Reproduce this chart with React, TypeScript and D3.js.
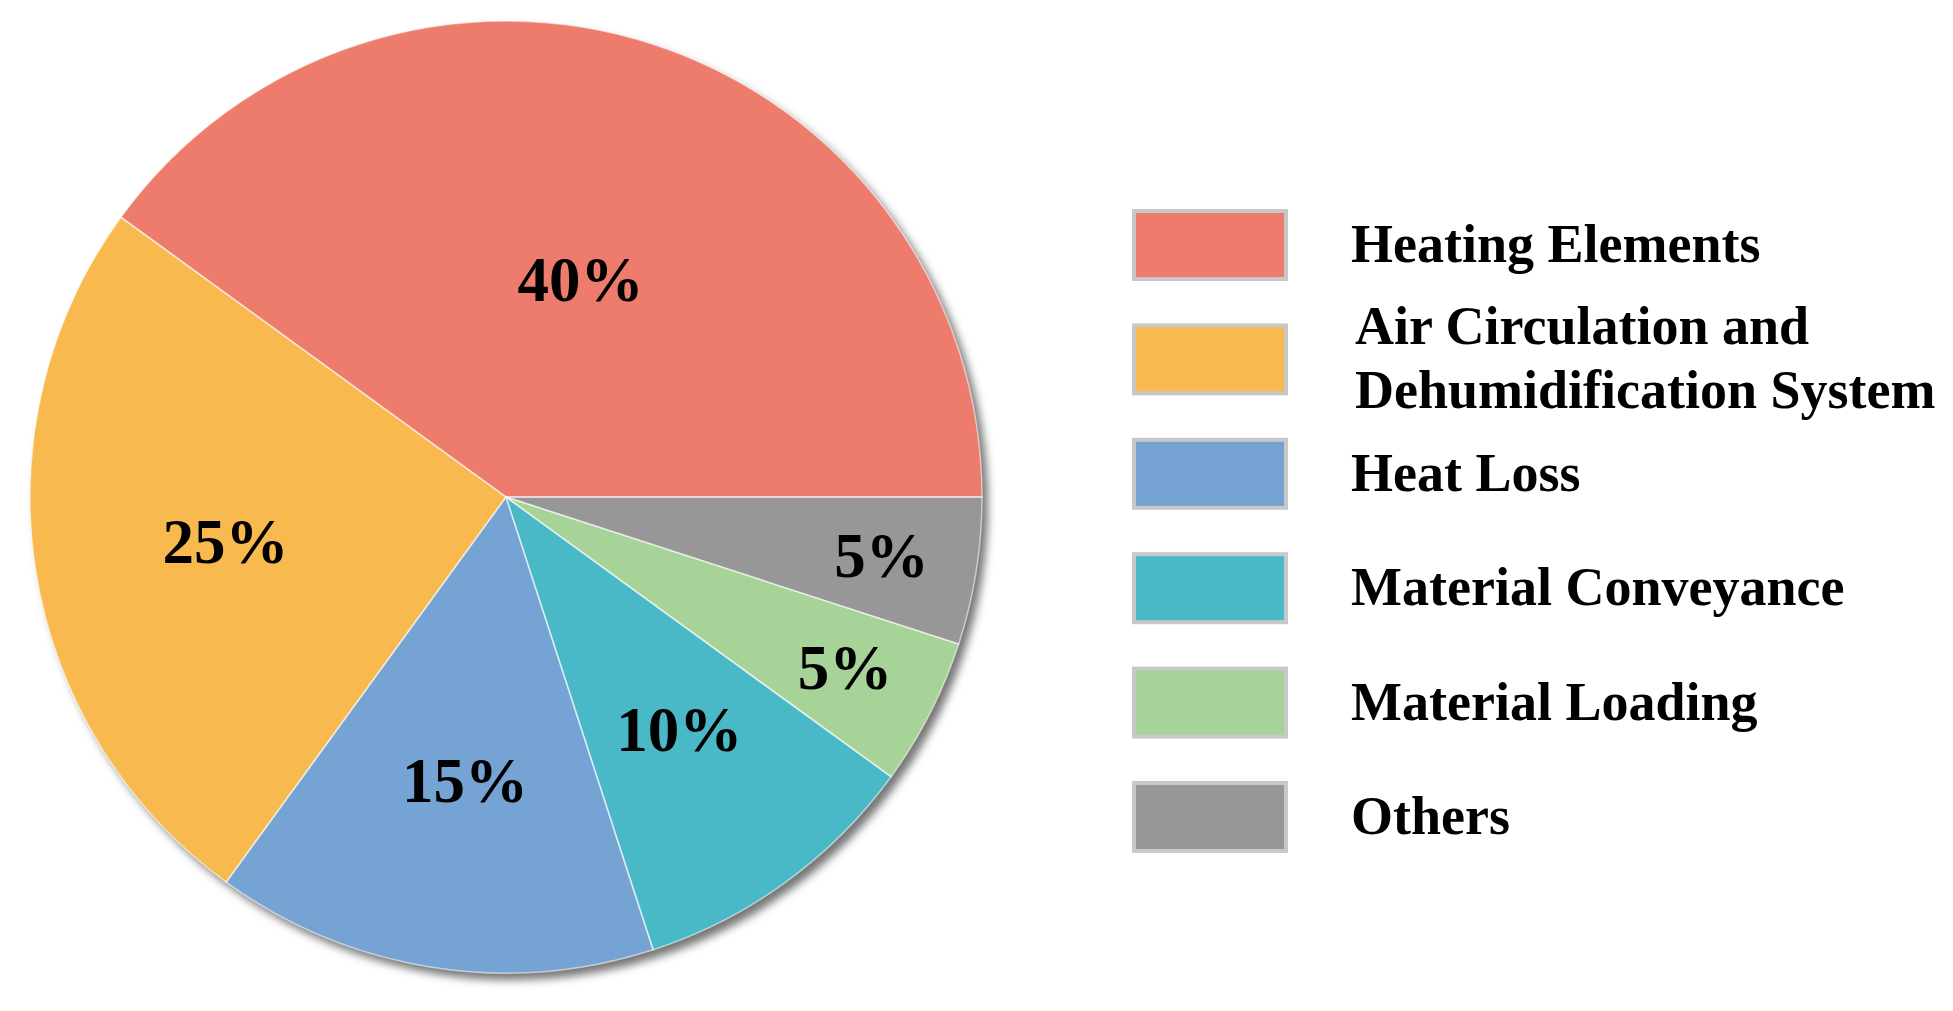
import React from "react";
import * as d3 from "d3";

const categories = [
  "Heating Elements",
  "Air Circulation and Dehumidification System",
  "Heat Loss",
  "Material Conveyance",
  "Material Loading",
  "Others",
];
const legendLines = [
  ["Heating Elements"],
  ["Air Circulation and", "Dehumidification System"],
  ["Heat Loss"],
  ["Material Conveyance"],
  ["Material Loading"],
  ["Others"],
];
const values = [40, 25, 15, 10, 5, 5];
const colors = ["#EE7B6D", "#F8B94F", "#74A3D3", "#4AB9C7", "#A7D398", "#979797"];

const W = 1953;
const H = 1011;
const cx = 506;
const cy = 497;
const R = 476;
const FONT = "'Liberation Serif', 'Times New Roman', serif";

export default function App() {
  const pie = d3
    .pie<number>()
    .sort(null)
    .value((d) => d)
    .startAngle(Math.PI / 2)
    .endAngle(Math.PI / 2 - 2 * Math.PI);
  const arcs = pie(values);
  const arcGen = d3.arc<d3.PieArcDatum<number>>().innerRadius(0).outerRadius(R);
  const labelFactor = (v: number) => (v >= 40 ? 0.48 : v >= 10 ? 0.605 : 0.79);

  const legendX = 1134;
  const legendTop = 211;
  const legendStep = 114.4;
  const textX = 1351;

  return (
    <svg
      width={W}
      height={H}
      style={{ position: "absolute", left: 0, top: 0, background: "#fff" }}
      xmlns="http://www.w3.org/2000/svg"
    >
      <defs>
        <filter id="shadow" x="-10%" y="-10%" width="125%" height="125%">
          <feDropShadow dx="6" dy="7" stdDeviation="4" floodColor="#6e6e6e" floodOpacity="0.95" />
        </filter>
      </defs>
      <rect width={W} height={H} fill="#fff" />
      <g transform={`translate(${cx},${cy})`}>
        <g filter="url(#shadow)">
          {arcs.map((a, i) => (
            <path key={i} d={arcGen(a) || ""} fill={colors[i]} />
          ))}
        </g>
        {arcs.map((a, i) => (
          <path
            key={"s" + i}
            d={arcGen(a) || ""}
            fill="none"
            stroke="#ffffff"
            strokeOpacity={0.55}
            strokeWidth={1.5}
          />
        ))}
        {arcs.map((a, i) => {
          const r = R * labelFactor(values[i]);
          const lab = d3.arc<d3.PieArcDatum<number>>().innerRadius(r).outerRadius(r);
          const [x, y] = lab.centroid(a);
          return (
            <text
              key={"t" + i}
              x={x + 4}
              y={y + 21}
              textAnchor="middle"
              fontFamily={FONT}
              fontWeight="bold"
              fontSize={63}
              fill="#000"
            >
              {values[i]}%
            </text>
          );
        })}
      </g>
      {categories.map((c, i) => {
        const top = legendTop + i * legendStep;
        const lines = legendLines[i];
        const mid = top + 34;
        return (
          <g key={c}>
            <rect
              x={legendX}
              y={top}
              width={152}
              height={68}
              fill={colors[i]}
              stroke="#C8C8C8"
              strokeWidth={4}
            />
            {lines.map((ln, j) => (
              <text
                key={j}
                x={lines.length > 1 ? textX + 4 : textX}
                y={mid + 17 + (j - (lines.length - 1) / 2) * 64}
                fontFamily={FONT}
                fontWeight="bold"
                fontSize={54}
                fill="#000"
              >
                {ln}
              </text>
            ))}
          </g>
        );
      })}
    </svg>
  );
}
